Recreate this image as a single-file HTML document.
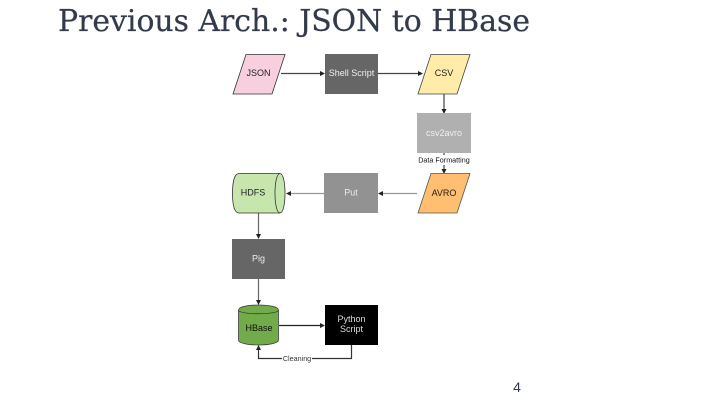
<!DOCTYPE html>
<html>
<head>
<meta charset="utf-8">
<style>
html,body{margin:0;padding:0;background:#fff;width:720px;height:405px;overflow:hidden}
svg{display:block;position:absolute;left:0;top:0}
.d{filter:blur(0.35px)}
text{font-family:"Liberation Sans",sans-serif;font-size:9px;text-anchor:middle}
</style>
</head>
<body>
<svg width="720" height="405" viewBox="0 0 720 405" xmlns="http://www.w3.org/2000/svg">
<text x="58" y="31" style="font-family:'DejaVu Serif','Liberation Serif',serif;font-size:30px;text-anchor:start;fill:#333b4a;stroke:#333b4a;stroke-width:0.25px" textLength="472" lengthAdjust="spacingAndGlyphs">Previous Arch.: JSON to HBase</text>

<g class="d">
<!-- connectors -->
<g fill="none" stroke="#444" stroke-width="1.2">
<path d="M281 73.500H322"/>
<path d="M378 73.500H419"/>
<path d="M444 94V111"/>
<path d="M444 153V171"/>
<path d="M417 193.500H380" stroke="#999"/>
<path d="M324 193.500H289" stroke="#999"/>
<path d="M258.500 213V236" stroke="#666"/>
<path d="M258.500 279V302" stroke="#666"/>
<path d="M279 325.500H322" stroke="#222"/>
<path d="M351.500 345V358.500H258.500V348" stroke="#333"/>
</g>
<g fill="#222">
<path d="M325 73.500l-5 -2.500v5z"/>
<path d="M423 73.500l-5 -2.500v5z"/>
<path d="M444 114l-2.500 -5h5z"/>
<path d="M444 174l-2.500 -5h5z"/>
<path d="M378 193.500l5 -2.500v5z"/>
<path d="M286 193.500l5 -2.500v5z"/>
<path d="M258.500 239l-2.500 -5h5z"/>
<path d="M258.500 305l-2.500 -5h5z"/>
<path d="M325 325.500l-5 -2.500v5z"/>
<path d="M258.500 345l-2.500 5h5z"/>
</g>

<!-- nodes -->
<polygon points="246,54.500 285,54.500 272,94 233,94" fill="#f8cfdf" stroke="#333" stroke-width="0.8"/>
<text x="258.500" y="76" fill="#222">JSON</text>

<rect x="325" y="54" width="53" height="40" fill="#666"/>
<text x="351.500" y="76" fill="#eee">Shell Script</text>

<polygon points="431,54.500 470,54.500 457,94 418,94" fill="#ffeca8" stroke="#444" stroke-width="0.8"/>
<text x="444" y="76" fill="#222">CSV</text>

<rect x="417" y="113" width="54" height="40" fill="#b0b0b0"/>
<text x="444" y="136" fill="#eee">csv2avro</text>
<rect x="416" y="155" width="56" height="10" fill="#fff"/>
<text x="444" y="162.500" fill="#111" style="font-size:7.200px">Data Formatting</text>

<polygon points="431,173.500 470,173.500 457,213 418,213" fill="#ffbe70" stroke="#555" stroke-width="0.8"/>
<text x="444" y="196" fill="#222">AVRO</text>

<rect x="324" y="173" width="54" height="40" fill="#929292"/>
<text x="351" y="195.500" fill="#eee">Put</text>

<!-- HDFS horizontal cylinder -->
<path d="M239 173.500H280C286.700 173.500 286.700 213 280 213H239C235 213 232.500 207 232.500 193.300C232.500 180 235 173.500 239 173.500Z" fill="#c6e6ae" stroke="#333" stroke-width="0.8"/>
<path d="M280 173.500C273.300 173.500 273.300 213 280 213" fill="none" stroke="#333" stroke-width="0.8"/>
<text x="253" y="195.500" fill="#222">HDFS</text>

<rect x="232" y="239" width="53" height="40" fill="#666"/>
<text x="258.500" y="261.500" fill="#eee">Pig</text>

<!-- HBase cylinder -->
<path d="M238.500 310C238.500 303.300 278.500 303.300 278.500 310V340C278.500 346.700 238.500 346.700 238.500 340Z" fill="#72ab4a" stroke="#333" stroke-width="0.7"/>
<path d="M238.500 310C238.500 315 278.500 315 278.500 310" fill="none" stroke="#333" stroke-width="0.7"/>
<text x="259" y="331" fill="#111">HBase</text>

<rect x="325" y="305" width="53" height="40" fill="#000"/>
<text x="351.500" y="322" fill="#ddd">Python</text>
<text x="351.500" y="332" fill="#ddd">Script</text>

<rect x="282" y="353" width="30" height="10" fill="#fff"/>
<text x="297" y="361" fill="#333" style="font-size:7.200px">Cleaning</text>
</g>

<text x="517" y="392" style="font-size:14px;text-anchor:middle" fill="#333b4a">4</text>
</svg>
</body>
</html>
